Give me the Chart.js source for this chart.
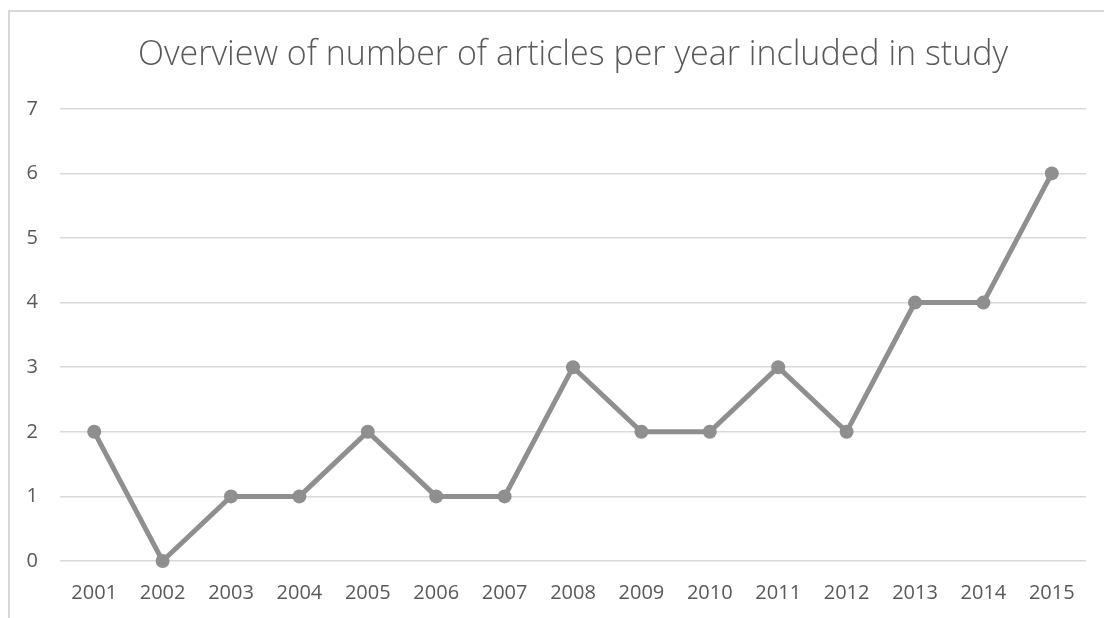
<!DOCTYPE html>
<html>
<head>
<meta charset="utf-8">
<script src="https://cdn.jsdelivr.net/npm/chart.js@4"></script>
<style>
  html, body { margin: 0; padding: 0; background: #fff; overflow: hidden; }
  #frame {
    position: absolute; left: 8px; top: 10px;
    width: 1096px; height: 608px; overflow: hidden;
    border-left: 2px solid #d9d9d9; border-top: 2px solid #d9d9d9;
  }
  #chart-artigos { display: block; }
</style>
</head>
<body>
<div id="frame"><canvas id="chart-artigos" width="1094" height="627"></canvas></div>
<script>
const anos = ['2001', '2002', '2003', '2004', '2005', '2006', '2007', '2008', '2009', '2010', '2011', '2012', '2013', '2014', '2015'];
const artigos = [2, 0, 1, 1, 2, 1, 1, 3, 2, 2, 3, 2, 4, 4, 6];
const titulo = 'Overview of number of articles per year included in study';

const corLinha = '#8f8f8f';
const corTexto = '#595959';
const corGrade = '#d9d9d9';
const fonte = "'Open Sans', 'Liberation Sans', sans-serif";

const canvasArtigos = document.getElementById('chart-artigos');
const grafico = new Chart(canvasArtigos, {
    type: 'line',
    data: {
        labels: anos,
        datasets: [{
            label: 'Articles',
            data: artigos,
            borderColor: corLinha,
            backgroundColor: corLinha,
            borderWidth: 5,
            pointRadius: 7,
            pointBorderWidth: 0,
            pointBackgroundColor: corLinha,
            tension: 0,
            clip: false
        }]
    },
    options: {
        responsive: false,
        animation: false,
        layout: { padding: { left: 0, right: 18, top: 0, bottom: 14 } },
        plugins: {
            legend: { display: false },
            tooltip: { enabled: false },
            title: {
                display: true,
                // centred over the plot area instead of the whole canvas
                fullSize: false,
                text: titulo,
                color: corTexto,
                font: { family: fonte, size: 34, weight: '300' },
                padding: { top: 23, bottom: 33 }
            }
        },
        scales: {
            x: {
                offset: true,
                grid: { display: false, drawTicks: false },
                border: { display: false },
                ticks: { color: corTexto, font: { family: fonte, size: 20 }, padding: 20, maxRotation: 0 }
            },
            y: {
                min: 0,
                max: 7,
                grid: { color: corGrade, lineWidth: 1.5, drawTicks: false },
                border: { display: false },
                ticks: { stepSize: 1, color: corTexto, font: { family: fonte, size: 20 }, padding: 22 },
                afterFit: (escala) => { escala.width = 50; }
            }
        }
    }
});
</script>
</body>
</html>
